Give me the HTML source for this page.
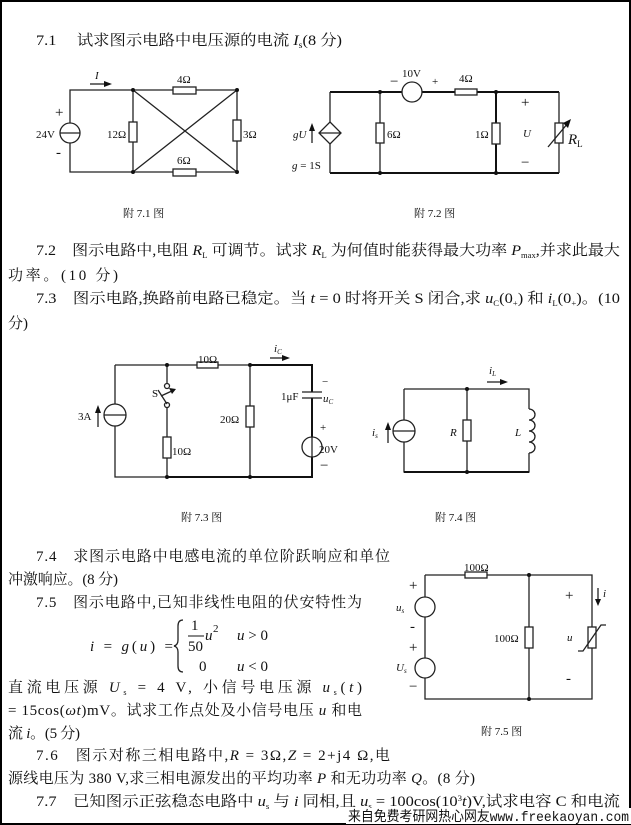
<!DOCTYPE html>
<html><head><meta charset="utf-8"><style>
html,body{margin:0;padding:0;background:#fff}
svg{display:block}
text{font-family:"Liberation Serif","Noto Serif CJK SC",serif;fill:#111}
.t{font-size:15px}
.s{font-size:11px}
.w{fill:none;stroke:#222;stroke-width:1.3}
.b{fill:none;stroke:#111;stroke-width:2}
.r{fill:#fff;stroke:#222;stroke-width:1.3}
.d{fill:#111}
</style></head><body>
<svg width="631" height="825" viewBox="0 0 631 825" xmlns="http://www.w3.org/2000/svg">
<rect x="1" y="1" width="629" height="823" fill="none" stroke="#000" stroke-width="2"/>

<!-- texts -->
<text class="t" x="36" y="45" textLength="306" lengthAdjust="spacingAndGlyphs">7.1　 试求图示电路中电压源的电流 <tspan font-style="italic">I</tspan><tspan font-size="9" dy="3">s</tspan><tspan dy="-3">(8 分)</tspan></text>
<text class="t" x="36" y="255" textLength="584" lengthAdjust="spacingAndGlyphs">7.2　图示电路中,电阻 <tspan font-style="italic">R</tspan><tspan font-size="8" dy="3">L</tspan><tspan dy="-3"> 可调节。试求 </tspan><tspan font-style="italic">R</tspan><tspan font-size="8" dy="3">L</tspan><tspan dy="-3"> 为何值时能获得最大功率 </tspan><tspan font-style="italic">P</tspan><tspan font-size="8" dy="3">max</tspan><tspan dy="-3">,并求此最大</tspan></text>
<text class="t" x="8" y="280" textLength="110" lengthAdjust="spacing">功率。(10 分)</text>
<text class="t" x="36" y="303" textLength="584" lengthAdjust="spacingAndGlyphs">7.3　图示电路,换路前电路已稳定。当 <tspan font-style="italic">t</tspan> = 0 时将开关 S 闭合,求 <tspan font-style="italic">u</tspan><tspan font-size="8" dy="3">C</tspan><tspan dy="-3">(0</tspan><tspan font-size="8" dy="3">+</tspan><tspan dy="-3">) 和 </tspan><tspan font-style="italic">i</tspan><tspan font-size="8" dy="3">L</tspan><tspan dy="-3">(0</tspan><tspan font-size="8" dy="3">+</tspan><tspan dy="-3">)。(10</tspan></text>
<text class="t" x="8" y="328">分)</text>

<text class="t" x="36" y="561" textLength="354" lengthAdjust="spacing">7.4　求图示电路中电感电流的单位阶跃响应和单位</text>
<text class="t" x="8" y="584" textLength="110" lengthAdjust="spacing">冲激响应。(8 分)</text>
<text class="t" x="36" y="607" textLength="326" lengthAdjust="spacing">7.5　图示电路中,已知非线性电阻的伏安特性为</text>
<text class="t" x="90" y="651" textLength="83" lengthAdjust="spacing"><tspan font-style="italic">i</tspan> = <tspan font-style="italic">g</tspan>(<tspan font-style="italic">u</tspan>) =</text>
<path d="M183,620 q-5,0 -5,6 v14 q0,5 -4,6 q4,1 4,6 v14 q0,6 5,6" class="w"/>
<text class="t" x="191" y="630">1</text>
<line x1="188" y1="636" x2="204" y2="636" stroke="#111" stroke-width="1"/>
<text class="t" x="188" y="651">50</text>
<text class="t" x="205" y="640" font-style="italic">u</text><text class="s" x="213" y="632">2</text>
<text class="t" x="237" y="640"><tspan font-style="italic">u</tspan> &gt; 0</text>
<text class="t" x="199" y="671">0</text>
<text class="t" x="237" y="671"><tspan font-style="italic">u</tspan> &lt; 0</text>
<text class="t" x="8" y="692" textLength="354" lengthAdjust="spacing">直流电压源 <tspan font-style="italic">U</tspan><tspan font-size="8" dy="3">s</tspan><tspan dy="-3"> = 4 V, 小信号电压源 </tspan><tspan font-style="italic">u</tspan><tspan font-size="8" dy="3">s</tspan><tspan dy="-3">(</tspan><tspan font-style="italic">t</tspan>)</text>
<text class="t" x="8" y="715" textLength="354" lengthAdjust="spacing">= 15cos(<tspan font-style="italic">ωt</tspan>)mV。试求工作点处及小信号电压 <tspan font-style="italic">u</tspan> 和电</text>
<text class="t" x="8" y="738" textLength="72" lengthAdjust="spacing">流 <tspan font-style="italic">i</tspan>。(5 分)</text>
<text class="t" x="36" y="760" textLength="354" lengthAdjust="spacing">7.6　图示对称三相电路中,<tspan font-style="italic">R</tspan> = 3Ω,<tspan font-style="italic">Z</tspan> = 2+j4 Ω,电</text>
<text class="t" x="8" y="783" textLength="467" lengthAdjust="spacing">源线电压为 380 V,求三相电源发出的平均功率 <tspan font-style="italic">P</tspan> 和无功功率 <tspan font-style="italic">Q</tspan>。(8 分)</text>
<text class="t" x="36" y="806" textLength="584" lengthAdjust="spacingAndGlyphs">7.7　已知图示正弦稳态电路中 <tspan font-style="italic">u</tspan><tspan font-size="8" dy="3">s</tspan><tspan dy="-3"> 与 </tspan><tspan font-style="italic">i</tspan> 同相,且 <tspan font-style="italic">u</tspan><tspan font-size="8" dy="3">s</tspan><tspan dy="-3"> = 100cos(10</tspan><tspan font-size="8" dy="-5">3</tspan><tspan dy="5" font-style="italic">t</tspan>)V,试求电容 C 和电流</text>
<rect x="346" y="808" width="285" height="16" fill="#fff"/>
<text x="348" y="821" font-size="14" textLength="281" lengthAdjust="spacingAndGlyphs" style="font-family:'Liberation Mono','Noto Sans CJK SC',monospace">来自免费考研网热心网友www.freekaoyan.com</text>

<!-- Fig 7.1 -->
<g>
<path class="w" d="M70,90 H237 V172 H70 Z M133,90 V172 M133,90 L237,172 M237,90 L133,172"/>
<circle cx="70" cy="133" r="10" class="r"/>
<line x1="60" y1="133" x2="80" y2="133" class="w"/>
<rect x="129" y="122" width="8" height="20" class="r"/>
<rect x="233" y="120" width="8" height="21" class="r"/>
<rect x="173" y="87" width="23" height="7" class="r"/>
<rect x="173" y="169" width="23" height="7" class="r"/>
<circle cx="133" cy="90" r="2" class="d"/><circle cx="237" cy="90" r="2" class="d"/>
<circle cx="133" cy="172" r="2" class="d"/><circle cx="237" cy="172" r="2" class="d"/>
<line x1="90" y1="84" x2="104" y2="84" class="w"/><path d="M104,81 L112,84 L104,87Z" class="d"/>
<text class="s" x="95" y="79" font-style="italic">I</text>
<text class="t" x="55" y="117">+</text><text class="t" x="56" y="157">-</text>
<text class="s" x="36" y="138">24V</text>
<text class="s" x="107" y="138">12Ω</text>
<text class="s" x="243" y="138">3Ω</text>
<text class="s" x="177" y="83">4Ω</text>
<text class="s" x="177" y="164">6Ω</text>
<text class="s" x="123" y="217">附 7.1 图</text>
</g>

<!-- Fig 7.2 -->
<g>
<path class="b" d="M330,92 H402 M422,92 H559 M330,173 H559 M496,92 V173"/>
<path class="w" d="M330,92 V122 M330,144 V173 M380,92 V173 M559,92 V173"/>
<path d="M330,122 L341,133 L330,144 L319,133 Z M319,133 H341" class="r"/>
<line x1="312" y1="143" x2="312" y2="130" class="w" stroke-width="2"/><path d="M309,131 L312,123 L315,131Z" class="d"/>
<rect x="376" y="123" width="8" height="20" class="r"/>
<circle cx="412" cy="92" r="10" class="r"/>
<rect x="455" y="89" width="22" height="6" class="r"/>
<rect x="492" y="123" width="8" height="21" class="r"/>
<rect x="555" y="123" width="8" height="20" class="r"/>
<line x1="548" y1="147" x2="568" y2="123" class="w"/><path d="M571,119 L563,123 L568,128Z" class="d"/>
<circle cx="380" cy="92" r="2" class="d"/><circle cx="380" cy="173" r="2" class="d"/>
<circle cx="496" cy="92" r="2" class="d"/><circle cx="496" cy="173" r="2" class="d"/>
<text class="s" x="293" y="138" font-style="italic">gU</text>
<text class="s" x="292" y="169"><tspan font-style="italic">g</tspan> = 1S</text>
<text class="s" x="387" y="138">6Ω</text>
<text class="t" x="390" y="86">−</text>
<text class="s" x="402" y="77">10V</text>
<text class="s" x="432" y="85">+</text>
<text class="s" x="459" y="82">4Ω</text>
<text class="s" x="475" y="138">1Ω</text>
<text class="t" x="521" y="107">+</text>
<text class="s" x="523" y="137" font-style="italic">U</text>
<text class="t" x="521" y="167">−</text>
<text class="t" x="568" y="144" font-style="italic">R<tspan font-size="9" dy="3" font-style="normal">L</tspan></text>
<text class="s" x="414" y="217">附 7.2 图</text>
</g>

<!-- Fig 7.3 -->
<g>
<path class="w" d="M115,365 H197 M218,365 H312 V392 M312,398 V437 M312,457 V477 H115 V365 M167,365 V383 M167,407 V477 M250,365 V477"/>
<path class="b" d="M250,365 H312 V392 M312,398 V437 M312,457 V477 H167"/>
<circle cx="115" cy="415" r="11" class="r"/><line x1="104" y1="415" x2="126" y2="415" class="w"/>
<line x1="98" y1="427" x2="98" y2="412" class="w" stroke-width="2"/><path d="M95,413 L98,405 L101,413Z" class="d"/>
<rect x="197" y="362" width="21" height="6" class="r"/>
<circle cx="167" cy="386" r="2.5" class="r"/><circle cx="167" cy="405" r="2.5" class="r"/>
<line x1="167" y1="404" x2="158" y2="390" class="w"/>
<line x1="161" y1="396" x2="174" y2="390" class="w"/><path d="M176,389 L169,388 L172,394Z" class="d"/>
<rect x="163" y="437" width="8" height="21" class="r"/>
<rect x="246" y="406" width="8" height="21" class="r"/>
<line x1="302" y1="392" x2="322" y2="392" class="w" stroke-width="2"/>
<line x1="302" y1="398" x2="322" y2="398" class="w" stroke-width="2"/>
<circle cx="312" cy="447" r="10" class="r"/><line x1="312" y1="437" x2="312" y2="457" class="w"/>
<circle cx="167" cy="365" r="2" class="d"/><circle cx="250" cy="365" r="2" class="d"/>
<circle cx="167" cy="477" r="2" class="d"/><circle cx="250" cy="477" r="2" class="d"/>
<line x1="270" y1="358" x2="282" y2="358" class="w" stroke-width="2"/><path d="M282,355 L290,358 L282,361Z" class="d"/>
<text class="s" x="274" y="352" font-style="italic">i<tspan font-size="7" dy="2">C</tspan></text>
<text class="s" x="78" y="420">3A</text>
<text class="s" x="152" y="397">S</text>
<text class="s" x="172" y="455">10Ω</text>
<text class="s" x="220" y="423">20Ω</text>
<text class="s" x="198" y="363">10Ω</text>
<text class="s" x="281" y="400">1μF</text>
<text class="s" x="322" y="385">−</text>
<text class="s" x="323" y="402" font-style="italic">u<tspan font-size="7" dy="2">C</tspan></text>
<text class="s" x="320" y="431">+</text>
<text class="s" x="319" y="453">20V</text>
<text class="t" x="320" y="470">−</text>
<text class="s" x="181" y="521">附 7.3 图</text>
</g>

<!-- Fig 7.4 -->
<g>
<path class="w" d="M404,389 H529 V409 M529,453 V472 H404 V389 M467,389 V472"/>
<path class="b" d="M404,472 H529"/>
<circle cx="404" cy="431" r="11" class="r"/><line x1="393" y1="431" x2="415" y2="431" class="w"/>
<line x1="388" y1="443" x2="388" y2="429" class="w" stroke-width="2"/><path d="M385,430 L388,422 L391,430Z" class="d"/>
<rect x="463" y="420" width="8" height="21" class="r"/>
<path class="w" d="M529,409 a6,5.5 0 0 1 0,11 a6,5.5 0 0 1 0,11 a6,5.5 0 0 1 0,11 a6,5.5 0 0 1 0,11"/>
<circle cx="467" cy="389" r="2" class="d"/><circle cx="467" cy="472" r="2" class="d"/>
<line x1="487" y1="382" x2="500" y2="382" class="w" stroke-width="2"/><path d="M500,379 L508,382 L500,385Z" class="d"/>
<text class="s" x="489" y="374" font-style="italic">i<tspan font-size="7" dy="2">L</tspan></text>
<text class="s" x="372" y="436" font-style="italic">i<tspan font-size="7" dy="2">s</tspan></text>
<text class="s" x="450" y="436" font-style="italic">R</text>
<text class="s" x="515" y="436" font-style="italic">L</text>
<text class="s" x="435" y="521">附 7.4 图</text>
</g>

<!-- Fig 7.5 -->
<g>
<path class="w" d="M425,575 H465 M487,575 H592 V699 H425 V575 M529,575 V699"/>
<circle cx="425" cy="607" r="10" class="r"/>
<circle cx="425" cy="668" r="10" class="r"/>
<rect x="465" y="572" width="22" height="6" class="r"/>
<rect x="525" y="627" width="8" height="21" class="r"/>
<rect x="588" y="627" width="8" height="21" class="r"/>
<path class="w" d="M578,651 L583,651 L601,625 L606,625"/>
<circle cx="529" cy="575" r="2" class="d"/><circle cx="529" cy="699" r="2" class="d"/>
<line x1="598" y1="588" x2="598" y2="600" class="w"/><path d="M595,599 L598,606 L601,599Z" class="d"/>
<text class="s" x="603" y="597" font-style="italic">i</text>
<text class="t" x="409" y="590">+</text>
<text class="s" x="396" y="611" font-style="italic">u<tspan font-size="7" dy="2">s</tspan></text>
<text class="t" x="410" y="631">-</text>
<text class="t" x="409" y="652">+</text>
<text class="s" x="396" y="671" font-style="italic">U<tspan font-size="7" dy="2">s</tspan></text>
<text class="t" x="409" y="691">−</text>
<text class="s" x="464" y="571">100Ω</text>
<text class="s" x="494" y="642">100Ω</text>
<text class="t" x="565" y="600">+</text>
<text class="s" x="567" y="641" font-style="italic">u</text>
<text class="t" x="566" y="683">-</text>
<text class="s" x="481" y="735">附 7.5 图</text>
</g>
</svg>
</body></html>
